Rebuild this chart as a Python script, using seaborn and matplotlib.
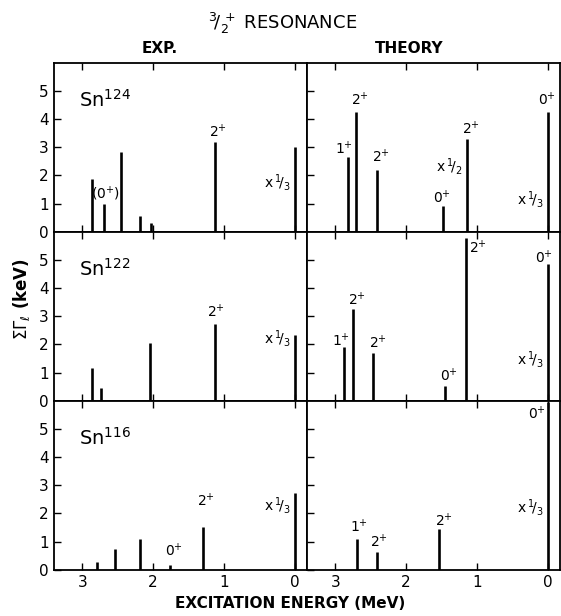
import numpy as np
import matplotlib
matplotlib.use('Agg')
import matplotlib.pyplot as plt
import seaborn as sns

# Excitation energies (MeV) and strengths (keV)
sn124_exp_e = [2.86, 2.69, 2.45, 2.19, 2.03, 1.13, 0.0]
sn124_exp_h = [1.89, 1.00, 2.84, 0.56, 0.33, 3.18, 3.00]
sn124_th_e = [2.82, 2.70, 2.41, 1.48, 1.14, 0.0]
sn124_th_h = [2.65, 4.26, 2.21, 0.93, 3.28, 4.27]

sn122_exp_e = [2.86, 2.74, 2.05, 1.13, 0.0]
sn122_exp_h = [1.17, 0.47, 2.06, 2.73, 2.32]
sn122_th_e = [2.88, 2.75, 2.47, 1.45, 1.16, 0.0]
sn122_th_h = [1.91, 3.26, 1.71, 0.52, 5.79, 4.85]

sn116_exp_e = [2.79, 2.54, 2.18, 1.76, 1.29, 0.0]
sn116_exp_h = [0.27, 0.74, 1.10, 0.18, 1.52, 2.74]
sn116_th_e = [2.69, 2.41, 1.53, 0.0]
sn116_th_h = [1.09, 0.63, 1.45, 5.95]

nuclei = ['Sn$^{124}$', 'Sn$^{122}$', 'Sn$^{116}$']
third = r'x$\,^1\!/_3$'
half = r'x$\,^1\!/_2$'

# annotations: (text, x, y)
notes = {
    (0, 0): [('(0$^{+}$)', 2.67, 1.35), ('2$^{+}$', 1.09, 3.54), (third, 0.24, 1.74)],
    (0, 1): [('1$^{+}$', 2.87, 2.96), ('2$^{+}$', 2.65, 4.70), ('2$^{+}$', 2.36, 2.66),
             (half, 1.39, 2.33), ('0$^{+}$', 1.50, 1.20), ('2$^{+}$', 1.08, 3.66),
             ('0$^{+}$', 0.01, 4.70), (third, 0.24, 1.16)],
    (1, 0): [('2$^{+}$', 1.11, 3.18), (third, 0.25, 2.20)],
    (1, 1): [('1$^{+}$', 2.92, 2.14), ('2$^{+}$', 2.69, 3.58), ('2$^{+}$', 2.40, 2.05),
             ('0$^{+}$', 1.40, 0.91), ('2$^{+}$', 0.99, 5.43), ('0$^{+}$', 0.05, 5.10),
             (third, 0.24, 1.48)],
    (2, 0): [('0$^{+}$', 1.71, 0.69), ('2$^{+}$', 1.25, 2.47), (third, 0.25, 2.28)],
    (2, 1): [('1$^{+}$', 2.67, 1.52), ('2$^{+}$', 2.38, 1.01), ('2$^{+}$', 1.47, 1.75),
             ('0$^{+}$', 0.15, 5.55), (third, 0.24, 2.22)],
}

data = [[(sn124_exp_e, sn124_exp_h), (sn124_th_e, sn124_th_h)],
        [(sn122_exp_e, sn122_exp_h), (sn122_th_e, sn122_th_h)],
        [(sn116_exp_e, sn116_exp_h), (sn116_th_e, sn116_th_h)]]

sns.set_style('ticks')
plt.rcParams['font.family'] = ['DejaVu Sans']
plt.rcParams['mathtext.fontset'] = 'dejavusans'
plt.rcParams['text.color'] = 'black'
plt.rcParams['xtick.color'] = 'black'
plt.rcParams['ytick.color'] = 'black'
plt.rcParams['axes.labelcolor'] = 'black'

fig = plt.figure(figsize=(5.61, 6.16), dpi=100)
gs = fig.add_gridspec(3, 2, left=0.096, right=0.998, top=0.898, bottom=0.075,
                      wspace=0, hspace=0)

for r in range(3):
    for c in range(2):
        ax = fig.add_subplot(gs[r, c])
        e, h = data[r][c]
        ax.vlines(e, 0, h, color='black', lw=1.9)
        ax.set_xlim(3.4, -0.17)
        ax.set_ylim(0, 6)
        ax.set_xticks([3, 2, 1, 0])
        ax.set_yticks([0, 1, 2, 3, 4, 5])
        ax.tick_params(direction='in', top=True, right=False, length=5,
                       width=1, labelsize=11)
        for s in ax.spines.values():
            s.set_linewidth(1.3)
            s.set_color('black')
        if c == 1:
            ax.set_yticklabels([])
        if r < 2:
            ax.set_xticklabels([])
        if c == 0:
            ax.text(3.04, 4.68, nuclei[r], fontsize=14, va='center', ha='left')
        for txt, x, y in notes[(r, c)]:
            ax.text(x, y, txt, fontsize=10, ha='center', va='center')

fig.text(0.503, 0.962, r'$^3\!/_2^{\,+}$ RESONANCE', ha='center', va='center',
         fontsize=13)
fig.text(0.285, 0.922, 'EXP.', ha='center', va='center', fontsize=11,
         fontweight='bold')
fig.text(0.73, 0.922, 'THEORY', ha='center', va='center', fontsize=11,
         fontweight='bold')
fig.text(0.517, 0.021, 'EXCITATION ENERGY (MeV)', ha='center', va='center',
         fontsize=11, fontweight='bold')
fig.text(0.038, 0.515, r'$\Sigma\Gamma_\ell$ (keV)', ha='center', va='center',
         rotation=90, fontsize=12, fontweight='bold')

plt.savefig('out.png', dpi=100)
